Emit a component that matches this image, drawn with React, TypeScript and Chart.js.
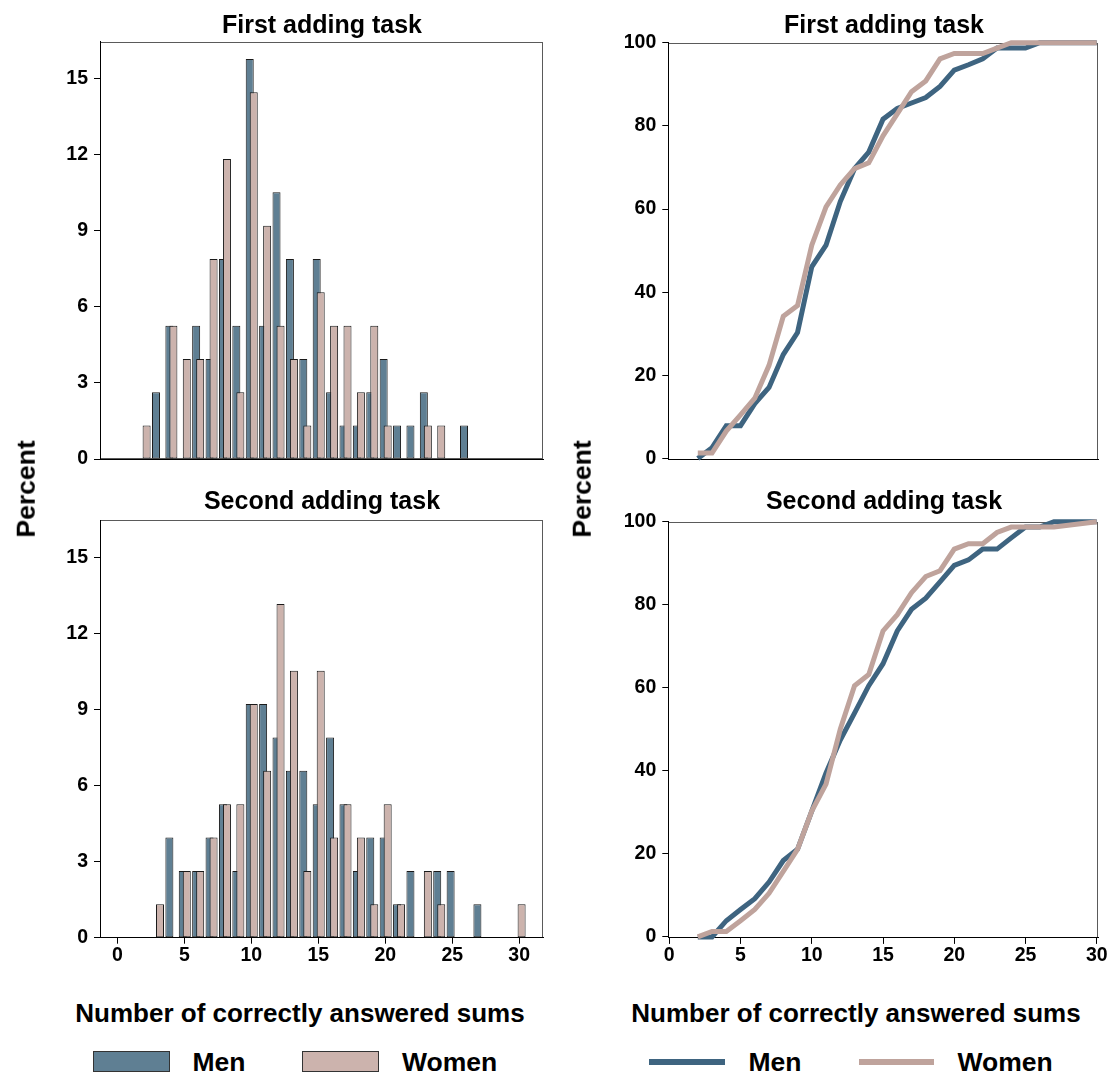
import React, { useEffect, useRef } from "react";
import { Chart, registerables } from "chart.js";

Chart.register(...registerables);

const FONT = "'Liberation Sans', Arial, Helvetica, sans-serif";

// ---- Data: histogram (percent of participants per score) ----
const histScores = [2, 3, 4, 5, 6, 7, 8, 9, 10, 11, 12, 13, 14, 15, 16, 17, 18, 19, 20, 21, 22, 23, 24, 25, 26, 27, 28, 29, 30];

const menFirstPct = [null, 2.63, 5.26, null, 5.26, 3.95, 7.89, 5.26, 15.79, 5.26, 10.53, 7.89, 3.95, 7.89, 2.63, 1.32, 1.32, 2.63, 3.95, 1.32, 1.32, 2.63, null, null, 1.32, null, null, null, null];
const womenFirstPct = [1.32, null, 5.26, 3.95, 3.95, 7.89, 11.84, 2.63, 14.47, 9.21, 5.26, 3.95, 1.32, 6.58, 5.26, 5.26, 2.63, 5.26, 1.32, null, null, 1.32, 1.32, null, null, null, null, null, null];
const menSecondPct = [null, null, 3.95, 2.63, 2.63, 3.95, 5.26, 2.63, 9.21, 9.21, 7.89, 6.58, 6.58, 5.26, 7.89, 5.26, 2.63, 3.95, 3.95, 1.32, 2.63, null, 2.63, 2.63, null, 1.32, null, null, null];
const womenSecondPct = [null, 1.32, null, 2.63, 2.63, 3.95, 5.26, 5.26, 9.21, 6.58, 13.16, 10.53, 2.63, 10.53, 3.95, 5.26, 3.95, 1.32, 5.26, 1.32, null, 2.63, 1.32, null, null, null, null, null, 1.32];

// ---- Data: cumulative percent ----
const cumScores = [2, 3, 4, 5, 6, 7, 8, 9, 10, 11, 12, 13, 14, 15, 16, 17, 18, 19, 20, 21, 22, 23, 24, 25, 26, 27, 30];
const menFirstCum = [0, 2.6, 7.9, 7.9, 13.2, 17.1, 25.0, 30.3, 46.1, 51.3, 61.8, 69.7, 73.7, 81.6, 84.2, 85.5, 86.8, 89.5, 93.4, 94.7, 96.1, 98.7, 98.7, 98.7, 100, 100, 100];
const womenFirstCum = [1.3, 1.3, 6.6, 10.5, 14.5, 22.4, 34.2, 36.8, 51.3, 60.5, 65.8, 69.7, 71.1, 77.6, 82.9, 88.2, 90.8, 96.1, 97.4, 97.4, 97.4, 98.7, 100, 100, 100, 100, 100];
const menSecondCum = [0, 0, 3.9, 6.6, 9.2, 13.2, 18.4, 21.1, 30.3, 39.5, 47.4, 53.9, 60.5, 65.8, 73.7, 78.9, 81.6, 85.5, 89.5, 90.8, 93.4, 93.4, 96.1, 98.7, 98.7, 100, 100];
const womenSecondCum = [0, 1.3, 1.3, 3.9, 6.6, 10.5, 15.8, 21.1, 30.3, 36.8, 50.0, 60.5, 63.2, 73.7, 77.6, 82.9, 86.8, 88.2, 93.4, 94.7, 94.7, 97.4, 98.7, 98.7, 98.7, 98.7, 100];

// ---- Tick labels ----
const scoreTicks = [0, 5, 10, 15, 20, 25, 30];
const histPctTicks = [0, 3, 6, 9, 12, 15];
const cumPctTicks = [0, 20, 40, 60, 80, 100];

// ---- Styles ----
const MEN_BAR = "#5f7f93";
const WOMEN_BAR = "#ccb3ad";
const BAR_EDGE = "#1a1a1a";
const MEN_LINE = "#3e6480";
const WOMEN_LINE = "#bfa39c";
const AXIS = "#000000";
const FRAME = "#5a5a5a";
const MEN_OFFSET = -0.12;
const WOMEN_OFFSET = 0.18;

const tickFont = { family: FONT, size: 19.5, weight: "bold" as const };

type Area = { cx0: number; cy0: number; cx1: number; cy1: number; L: number; R: number; T: number; B: number };

const AREA_TL: Area = { cx0: 40, cy0: 20, cx1: 560, cy1: 480, L: 100, R: 543.3, T: 41.7, B: 459 };
const AREA_BL: Area = { cx0: 40, cy0: 500, cx1: 560, cy1: 990, L: 100, R: 543.3, T: 520, B: 937.7 };
const AREA_TR: Area = { cx0: 600, cy0: 20, cx1: 1114, cy1: 480, L: 668.3, R: 1098.3, T: 42.7, B: 459.5 };
const AREA_BR: Area = { cx0: 600, cy0: 500, cx1: 1114, cy1: 990, L: 668.3, R: 1098.3, T: 521.7, B: 937.9 };

function fixScale(size: number, horizontal: boolean) {
  return (s: any) => {
    if (horizontal) s.height = size;
    else s.width = size;
    s.paddingLeft = 0;
    s.paddingRight = 0;
    s.paddingTop = 0;
    s.paddingBottom = 0;
  };
}

function setTicks(values: number[]) {
  return (s: any) => {
    s.ticks = values.map((v) => ({ value: v }));
  };
}

const framePlugin = {
  id: "frame",
  beforeDraw(chart: any) {
    const { ctx, chartArea: a } = chart;
    ctx.save();
    ctx.strokeStyle = FRAME;
    ctx.lineWidth = 1;
    const l = Math.round(a.left) + 0.5;
    const t = Math.round(a.top) + 0.5;
    const r = Math.round(a.right) - 0.5;
    const b = Math.round(a.bottom) - 0.5;
    ctx.strokeRect(l, t, r - l, b - t);
    ctx.restore();
  },
};

function toBars(values: (number | null)[], offset: number) {
  const out: { x: number; y: number }[] = [];
  values.forEach((v, i) => {
    if (v !== null) out.push({ x: histScores[i] + offset, y: v });
  });
  return out;
}

function toPoints(xs: number[], ys: number[]) {
  return xs.map((x, i) => ({ x, y: ys[i] }));
}

function baseOptions(area: Area) {
  return {
    responsive: false,
    animation: false,
    devicePixelRatio: 1,
    events: [],
    layout: { padding: { top: area.T - area.cy0, right: area.cx1 - area.R, left: 0, bottom: 0 } },
    plugins: { legend: { display: false }, tooltip: { enabled: false }, title: { display: false } },
  };
}

function xScale(area: Area, min: number, max: number, showX: boolean) {
  return {
    type: "linear",
    min,
    max,
    offset: false,
    afterBuildTicks: setTicks(scoreTicks),
    afterFit: fixScale(area.cy1 - area.B, true),
    ticks: { display: showX, font: tickFont, color: "#000", padding: 0, maxRotation: 0, autoSkip: false },
    grid: { display: true, offset: false, drawOnChartArea: false, drawTicks: showX, tickLength: 6, color: AXIS },
    border: { display: true, color: AXIS, width: 1 },
  };
}

function yScale(area: Area, min: number, max: number, ticks: number[]) {
  return {
    type: "linear",
    min,
    max,
    afterBuildTicks: setTicks(ticks),
    afterFit: fixScale(area.L - area.cx0, false),
    ticks: { font: tickFont, color: "#000", padding: 6, callback: (v: any) => String(v) },
    grid: { display: true, drawOnChartArea: false, drawTicks: true, tickLength: 6, color: AXIS },
    border: { display: true, color: AXIS, width: 1 },
  };
}

const barStyle = {
  borderColor: BAR_EDGE,
  borderWidth: 1,
  borderSkipped: false,
  grouped: false,
  maxBarThickness: 8,
  barPercentage: 5,
  categoryPercentage: 1,
};

function histConfig(area: Area, men: (number | null)[], women: (number | null)[], showX: boolean) {
  return {
    type: "bar",
    data: {
      datasets: [
        { label: "Men", data: toBars(men, MEN_OFFSET), backgroundColor: MEN_BAR, order: 2, ...barStyle },
        { label: "Women", data: toBars(women, WOMEN_OFFSET), backgroundColor: WOMEN_BAR, order: 1, ...barStyle },
      ],
    },
    options: {
      ...baseOptions(area),
      scales: {
        x: xScale(area, -1.3, 31.8, showX),
        y: yScale(area, 0, 16.47, histPctTicks),
      },
    },
    plugins: [framePlugin],
  };
}

function cumConfig(area: Area, men: number[], women: number[], showX: boolean) {
  const lineStyle = { borderWidth: 5, pointRadius: 0, tension: 0, fill: false, clip: false };
  return {
    type: "line",
    data: {
      datasets: [
        { label: "Men", data: toPoints(cumScores, men), borderColor: MEN_LINE, order: 2, ...lineStyle },
        { label: "Women", data: toPoints(cumScores, women), borderColor: WOMEN_LINE, order: 1, ...lineStyle },
      ],
    },
    options: {
      ...baseOptions(area),
      scales: {
        x: xScale(area, -0.07, 30.11, showX),
        y: yScale(area, -0.24, 100, cumPctTicks),
      },
    },
    plugins: [framePlugin],
  };
}

function Panel({ area, build }: { area: Area; build: () => any }) {
  const ref = useRef<HTMLCanvasElement>(null);
  useEffect(() => {
    const chart = new Chart(ref.current as HTMLCanvasElement, build());
    return () => chart.destroy();
  }, []);
  const w = area.cx1 - area.cx0;
  const h = area.cy1 - area.cy0;
  return (
    <canvas
      ref={ref}
      width={w}
      height={h}
      style={{ position: "absolute", left: area.cx0, top: area.cy0, width: w, height: h }}
    />
  );
}

function Label({ x, y, size, text, rotate = false, start = false }: { x: number; y: number; size: number; text: string; rotate?: boolean; start?: boolean }) {
  return (
    <div
      style={{
        position: "absolute",
        left: x,
        top: y,
        transform: `translate(${start ? "0" : "-50%"}, -50%)${rotate ? " rotate(-90deg)" : ""}`,
        fontFamily: FONT,
        fontWeight: 700,
        fontSize: size,
        lineHeight: 1,
        whiteSpace: "nowrap",
        color: "#000",
      }}
    >
      {text}
    </div>
  );
}

function Swatch({ x, y, w, h, color, line = false }: { x: number; y: number; w: number; h: number; color: string; line?: boolean }) {
  return (
    <div
      style={{
        position: "absolute",
        left: x,
        top: y,
        width: w,
        height: h,
        boxSizing: "border-box",
        background: color,
        border: line ? "none" : "1px solid #333",
      }}
    />
  );
}

export default function App() {
  return (
    <div style={{ position: "absolute", left: 0, top: 0, width: 1114, height: 1076, background: "#fff", overflow: "hidden" }}>
      <Panel area={AREA_TL} build={() => histConfig(AREA_TL, menFirstPct, womenFirstPct, false)} />
      <Panel area={AREA_BL} build={() => histConfig(AREA_BL, menSecondPct, womenSecondPct, true)} />
      <Panel area={AREA_TR} build={() => cumConfig(AREA_TR, menFirstCum, womenFirstCum, false)} />
      <Panel area={AREA_BR} build={() => cumConfig(AREA_BR, menSecondCum, womenSecondCum, true)} />

      <Label x={322} y={23.5} size={25} text="First adding task" />
      <Label x={322} y={500} size={25} text="Second adding task" />
      <Label x={884} y={23.5} size={25} text="First adding task" />
      <Label x={884} y={500} size={25} text="Second adding task" />

      <Label x={26} y={489} size={26.5} text="Percent" rotate />
      <Label x={582} y={489} size={26.5} text="Percent" rotate />

      <Label x={300} y={1013} size={26} text="Number of correctly answered sums" />
      <Label x={856} y={1013} size={26} text="Number of correctly answered sums" />

      <Swatch x={93} y={1050.5} w={77} h={21.5} color={MEN_BAR} />
      <Label x={192.5} y={1061.5} size={26.5} text="Men" start />
      <Swatch x={302} y={1050.5} w={76.5} h={21.5} color={WOMEN_BAR} />
      <Label x={402} y={1061.5} size={26.5} text="Women" start />

      <Swatch x={649} y={1059} w={76} h={6} color={MEN_LINE} line />
      <Label x={748.5} y={1061.5} size={26.5} text="Men" start />
      <Swatch x={859} y={1059} w={75} h={6} color={WOMEN_LINE} line />
      <Label x={957.5} y={1061.5} size={26.5} text="Women" start />
    </div>
  );
}
